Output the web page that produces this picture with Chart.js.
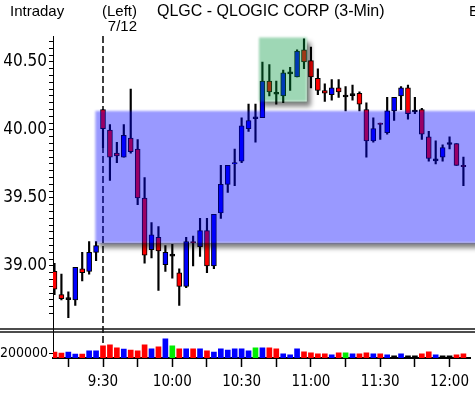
<!DOCTYPE html>
<html>
<head>
<meta charset="utf-8">
<script src="https://cdn.jsdelivr.net/npm/chart.js@4.4.1/dist/chart.umd.min.js"></script>
<style>
  html, body { margin: 0; padding: 0; background: #fff; }
  #wrap { width: 475px; height: 395px; position: relative; }
</style>
</head>
<body>
<div id="wrap"><canvas id="chart" width="475" height="395"></canvas></div>
<script>
// 3-min bars, 9:09 .. 12:06
const barTimes = ['9:09','9:12','9:15','9:18','9:21','9:24','9:27','9:30','9:33','9:36','9:39','9:42','9:45','9:48','9:51','9:54','9:57',
  '10:00','10:03','10:06','10:09','10:12','10:15','10:18','10:21','10:24','10:27','10:30','10:33','10:36','10:39','10:42','10:45','10:48','10:51','10:54','10:57',
  '11:00','11:03','11:06','11:09','11:12','11:15','11:18','11:21','11:24','11:27','11:30','11:33','11:36','11:39','11:42','11:45','11:48','11:51','11:54','11:57',
  '12:00','12:03','12:06'];

const opens  = [38.96,38.79,38.76,38.75,38.98,38.96,39.10,40.15,40.00,39.83,39.80,39.94,39.86,39.50,39.12,39.21,39.01,39.08,38.95,38.85,
  39.18,39.14,39.26,39.00,39.39,39.60,39.75,39.77,40.01,40.09,40.09,40.36,40.27,40.25,40.42,40.39,40.59,40.51,40.38,40.29,
  40.26,40.31,40.25,40.26,40.27,40.15,39.92,40.05,39.98,40.14,40.25,40.31,40.14,40.15,39.95,39.78,39.80,39.90,39.90,39.74];
const highs  = [39.02,38.94,38.81,38.99,39.10,39.18,39.18,40.15,40.04,39.91,40.04,40.30,39.93,39.65,39.32,39.29,39.15,39.16,38.98,39.21,
  39.22,39.35,39.35,39.38,39.74,39.74,39.86,40.09,40.19,40.19,40.50,40.48,40.36,40.44,40.46,40.59,40.67,40.61,40.45,40.34,
  40.37,40.37,40.32,40.33,40.28,40.20,40.09,40.05,40.24,40.24,40.32,40.33,40.24,40.16,39.99,39.92,39.89,39.95,39.90,39.80];
const lows   = [38.79,38.75,38.62,38.71,38.89,38.94,39.04,39.87,39.63,39.76,39.80,39.83,39.45,39.02,39.06,38.82,38.96,38.91,38.71,38.84,
  39.00,39.07,38.95,38.98,39.35,39.54,39.59,39.76,39.99,39.91,40.09,40.25,40.19,40.20,40.29,40.39,40.45,40.31,40.26,40.21,
  40.22,40.24,40.14,40.22,40.14,39.80,39.91,39.93,39.97,40.07,40.15,40.08,40.12,39.93,39.77,39.75,39.77,39.86,39.74,39.59];
const closes = [38.83,38.76,38.76,38.99,38.95,39.10,39.15,40.01,39.80,39.81,39.96,39.84,39.50,39.08,39.23,39.11,39.10,39.08,38.85,39.18,
  39.17,39.26,39.00,39.38,39.60,39.74,39.76,40.03,40.07,40.09,40.36,40.28,40.27,40.42,40.42,40.58,40.50,40.39,40.29,40.27,
  40.31,40.28,40.25,40.26,40.19,39.92,40.01,40.04,40.14,40.24,40.31,40.12,40.14,39.97,39.79,39.78,39.87,39.90,39.74,39.73];

const volumes = [240000,200000,240000,160000,160000,290000,290000,490000,530000,410000,360000,320000,290000,530000,370000,450000,770000,490000,370000,370000,
  370000,370000,290000,240000,370000,320000,370000,370000,290000,410000,410000,410000,370000,170000,130000,370000,250000,210000,170000,170000,
  130000,210000,210000,170000,170000,210000,170000,170000,130000,90000,170000,90000,90000,170000,250000,130000,90000,90000,130000,170000];
// U up, D down, E unchanged, N no tick
const volumeTicks = ['D','D','U','U','D','U','U','D','D','D','U','D','D','D','U','D','U','E','D','U',
  'D','U','D','U','U','U','U','U','U','E','U','D','D','U','U','U','D','D','D','D',
  'U','D','E','U','D','D','U','D','U','N','U','N','N','D','D','U','N','N','D','D'];

const tickTimes  = ['9:15','9:30','9:45','10:00','10:15','10:30','10:45','11:00','11:15','11:30','11:45','12:00'];
const tickLabels = ['9:30','10:00','10:30','11:00','11:30','12:00'];
const priceLabels = ['39.00','39.50','40.00','40.50'];
const volumeLabels = ['200000'];
const sessionMark = '9:30';

// shaded zones: [from bar, to bar, low price, high price]
const zoneFrom = [5.9, 29.5];
const zoneTo   = [62, 36.4];
const zoneLow  = [39.17, 40.21];
const zoneHigh = [40.14, 40.68];
const zoneColors = ['rgba(0,0,255,0.4)', 'rgba(0,150,60,0.38)'];

const upColor = '#0000ff', downColor = '#ff0000';
const volColors = { U: '#0000ff', D: '#ff0000', E: '#00ee00', N: '#000000' };
const fontFamily = 'Liberation Sans Narrow, DejaVu Sans Condensed, sans-serif';

const bodies = [], wicks = [], bodyColors = [];
opens.forEach((o, i) => {
  const c = closes[i];
  if (o === c) {
    bodies.push({ x: i, y: [c - 0.007, c + 0.007] });
    bodyColors.push('#000');
  } else {
    bodies.push({ x: i, y: [Math.min(o, c), Math.max(o, c)] });
    bodyColors.push(c > o ? upColor : downColor);
  }
  wicks.push({ x: i, y: [lows[i], highs[i]] });
});
const volData = volumes.map((v, i) => ({ x: i, y: v }));

function outsideShadow(ctx, x, y, w, h, dx, dy) {
  ctx.save();
  ctx.beginPath();
  ctx.rect(0, 0, 475, 395);
  ctx.rect(x, y, w, h);
  ctx.clip('evenodd');
  ctx.filter = 'blur(2.5px)';
  ctx.fillStyle = 'rgba(0,0,0,0.5)';
  ctx.fillRect(x + dx, y + dy, w, h);
  ctx.restore();
}

const extras = {
  id: 'extras',
  beforeDatasetsDraw(chart) {
    const ctx = chart.ctx, xs = chart.scales.x;
    const px = xs.getPixelForValue(barTimes.indexOf(sessionMark));
    ctx.save();
    ctx.strokeStyle = '#000';
    ctx.lineWidth = 1.5;
    ctx.setLineDash([7, 3]);
    ctx.beginPath();
    ctx.moveTo(px, chart.chartArea.top);
    ctx.lineTo(px, chart.chartArea.bottom);
    ctx.stroke();
    ctx.restore();
  },
  afterDatasetsDraw(chart) {
    const ctx = chart.ctx, xs = chart.scales.x, ys = chart.scales.y;
    zoneFrom.forEach((f, k) => {
      const x0 = xs.getPixelForValue(f), x1 = xs.getPixelForValue(zoneTo[k]);
      const y0 = ys.getPixelForValue(zoneHigh[k]), y1 = ys.getPixelForValue(zoneLow[k]);
      outsideShadow(ctx, x0, y0, x1 - x0, y1 - y0, 4, 5);
      ctx.save();
      ctx.filter = 'blur(1px)';
      ctx.fillStyle = zoneColors[k];
      ctx.fillRect(x0, y0, x1 - x0, y1 - y0);
      ctx.restore();
    });
  },
  afterDraw(chart) {
    const ctx = chart.ctx;
    ctx.save();
    // panel separator
    ctx.strokeStyle = '#111';
    ctx.lineWidth = 1.5;
    [329, 332].forEach(y => {
      ctx.beginPath(); ctx.moveTo(0, y); ctx.lineTo(475, y); ctx.stroke();
    });
    // header
    ctx.fillStyle = '#000';
    ctx.font = '15px "Liberation Sans", sans-serif';
    ctx.textBaseline = 'alphabetic';
    ctx.textAlign = 'left';
    ctx.fillText('Intraday', 10, 16);
    ctx.fillText('E', 469, 16);
    ctx.font = '16px "Liberation Sans", sans-serif';
    ctx.fillText('QLGC - QLOGIC CORP (3-Min)', 157, 16);
    ctx.font = '15px "Liberation Sans", sans-serif';
    ctx.textAlign = 'right';
    ctx.fillText('(Left)', 137, 16);
    ctx.fillText('7/12', 137, 31);
    ctx.restore();
  }
};

const fixWidth = s => { s.width = 53; };

new Chart(document.getElementById('chart'), {
  type: 'bar',
  data: {
    datasets: [
      { data: bodies, backgroundColor: bodyColors, borderColor: '#000', borderWidth: 1, borderSkipped: false,
        barThickness: 5, grouped: false, yAxisID: 'y', order: 0 },
      { data: wicks, backgroundColor: '#000', borderWidth: 0, barThickness: 1.5, grouped: false, yAxisID: 'y', order: 1 },
      { data: volData, backgroundColor: volumeTicks.map(t => volColors[t]), borderWidth: 0,
        barThickness: 5, grouped: false, yAxisID: 'yv', order: 2 }
    ]
  },
  options: {
    responsive: false,
    animation: false,
    layout: { padding: { top: 36, left: 0, right: 0, bottom: 0 } },
    plugins: { legend: { display: false }, tooltip: { enabled: false }, title: { display: false } },
    scales: {
      x: {
        type: 'linear', min: -0.2143, max: 60.0714, offset: false,
        afterBuildTicks: s => { s.ticks = tickTimes.map(t => ({ value: barTimes.indexOf(t) })); },
        afterFit: s => { s.height = 37; },
        ticks: {
          autoSkip: false, maxRotation: 0, padding: 6, color: '#000', font: { family: fontFamily, size: 15 },
          callback: v => { const t = barTimes[v]; return tickLabels.includes(t) ? t : ''; }
        },
        grid: { offset: false, drawOnChartArea: false, tickLength: 9, color: '#000', tickWidth: 1.5 },
        border: { color: '#000', width: 2 }
      },
      yv: {
        type: 'linear', position: 'left', stack: 'panes', stackWeight: 27,
        min: 0, max: 1080000,
        afterBuildTicks: s => { s.ticks = volumeLabels.map(l => ({ value: +l })); },
        afterFit: fixWidth,
        ticks: { autoSkip: false, padding: 1, color: '#000', font: { family: fontFamily, size: 14 }, callback: v => String(v) },
        grid: { drawOnChartArea: false, tickLength: 4, color: '#000' },
        border: { color: '#000', width: 1 }
      },
      y: {
        type: 'linear', position: 'left', stack: 'panes', stackWeight: 295,
        min: 38.522, max: 40.691,
        afterBuildTicks: s => {
          const t = [];
          for (let k = 0; k <= 40; k++) t.push({ value: +(38.65 + k * 0.05).toFixed(2) });
          s.ticks = t;
        },
        afterFit: fixWidth,
        ticks: {
          autoSkip: false, padding: 2, color: '#000', font: { family: fontFamily, size: 17 },
          callback: v => { const l = v.toFixed(2); return priceLabels.includes(l) ? l : ''; }
        },
        grid: { drawOnChartArea: false, tickLength: 4, color: '#000' },
        border: { color: '#000', width: 1 }
      }
    }
  },
  plugins: [extras]
});
</script>
</body>
</html>
